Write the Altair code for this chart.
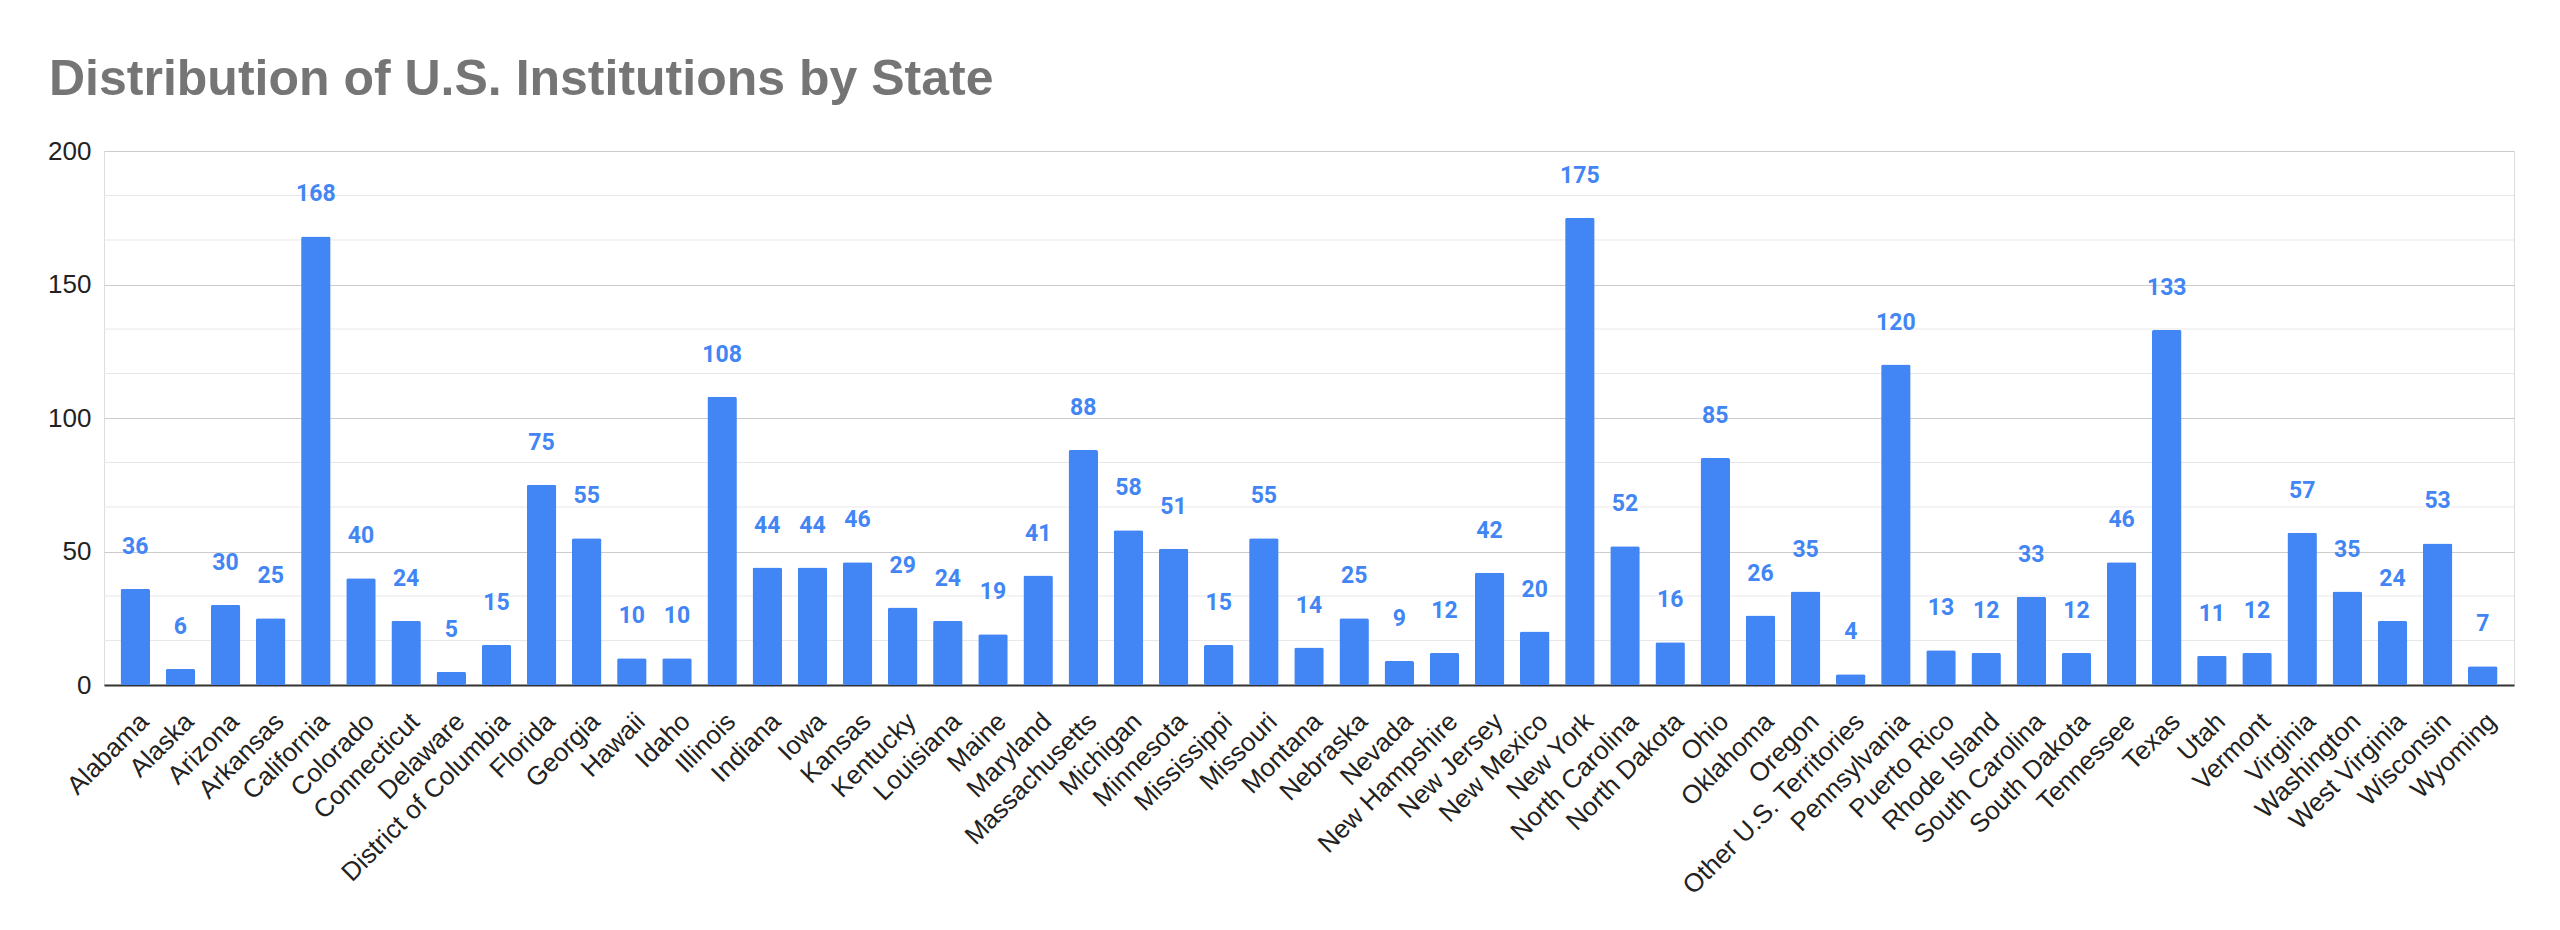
import altair as alt
import pandas as pd

states = ["Alabama", "Alaska", "Arizona", "Arkansas", "California", "Colorado", "Connecticut",
          "Delaware", "District of Columbia", "Florida", "Georgia", "Hawaii", "Idaho", "Illinois",
          "Indiana", "Iowa", "Kansas", "Kentucky", "Louisiana", "Maine", "Maryland",
          "Massachusetts", "Michigan", "Minnesota", "Mississippi", "Missouri", "Montana",
          "Nebraska", "Nevada", "New Hampshire", "New Jersey", "New Mexico", "New York",
          "North Carolina", "North Dakota", "Ohio", "Oklahoma", "Oregon", "Other U.S. Territories",
          "Pennsylvania", "Puerto Rico", "Rhode Island", "South Carolina", "South Dakota",
          "Tennessee", "Texas", "Utah", "Vermont", "Virginia", "Washington", "West Virginia",
          "Wisconsin", "Wyoming"]
counts = [36, 6, 30, 25, 168, 40, 24, 5, 15, 75, 55, 10, 10, 108, 44, 44, 46, 29, 24, 19, 41,
          88, 58, 51, 15, 55, 14, 25, 9, 12, 42, 20, 175, 52, 16, 85, 26, 35, 4, 120, 13, 12,
          33, 12, 46, 133, 11, 12, 57, 35, 24, 53, 7]
major_ticks = [0, 50, 100, 150, 200]
minor_ticks = [16.67, 33.33, 66.67, 83.33, 116.67, 133.33, 166.67, 183.33]

df = pd.DataFrame({"State": states, "Count": counts})
minor_df = pd.DataFrame({"v": minor_ticks})

BLUE = "#4285F4"

yscale = alt.Scale(domain=[0, 200], nice=False)
xscale = alt.Scale(paddingInner=0.347, paddingOuter=0.366)

grid = alt.Chart(minor_df).mark_rule(color="#e8e8e8", strokeWidth=1).encode(
    y=alt.Y("v:Q", scale=yscale)
)

base = alt.Chart(df).encode(
    x=alt.X("State:N", sort=None, scale=xscale, title=None,
            axis=alt.Axis(labelAngle=-45, labelFontSize=26, labelFont="Liberation Sans",
                          labelColor="#222222", ticks=False, domain=True, domainColor="#333333",
                          domainWidth=2, labelPadding=23, labelOverlap=False, labelLimit=0)),
    y=alt.Y("Count:Q", scale=yscale, title=None,
            axis=alt.Axis(values=major_ticks, labelFontSize=26, labelFont="Liberation Sans",
                          labelColor="#222222", ticks=False, domain=False, gridColor="#cccccc",
                          gridWidth=1, labelPadding=13)),
)

bars = base.mark_bar(color=BLUE, cornerRadius=2)
text = base.mark_text(color=BLUE, font="Roboto", fontWeight="bold", fontSize=23,
                      baseline="alphabetic", dy=-35).encode(text="Count:Q")

chart = alt.layer(grid, bars, text).properties(
    width=2410, height=534,
    autosize=alt.AutoSizeParams(type="none"),
    padding={"left": 104, "top": 151, "right": 46, "bottom": 245},
    title=alt.TitleParams("Distribution of U.S. Institutions by State", anchor="start",
                          frame="group", font="Liberation Sans", fontSize=50,
                          fontWeight="bold", color="#757575", dx=-55, dy=47, offset=40,
                          baseline="alphabetic"),
).configure_view(stroke=None).configure(background="white")

chart.save("out.html", embed_options={"renderer": "svg", "actions": False})
